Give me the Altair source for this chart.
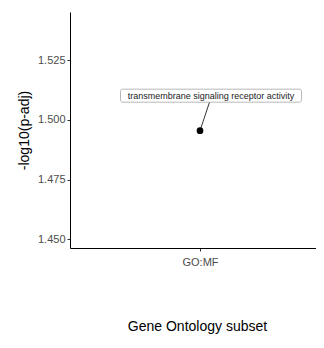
import altair as alt
import pandas as pd

subsets = ["GO:MF"]
terms = ["transmembrane signaling receptor activity"]
neg_log_padj = [1.4955]
label_pos = [1.5102]

df = pd.DataFrame({"subset": subsets, "term": terms, "val": neg_log_padj, "label_y": label_pos})

FONT = "Liberation Sans"

x_scale = alt.Scale(type="point", align=130 / 246)
x_enc = alt.X(
    "subset:N",
    scale=x_scale,
    title="Gene Ontology subset",
    axis=alt.Axis(labelAngle=0, labelPadding=5, titlePadding=52, titleX=127),
)
y_dom = alt.Scale(domain=[1.4463, 1.5453], nice=False, zero=False)
y_enc = alt.Y(
    "val:Q",
    scale=y_dom,
    title="-log10(p-adj)",
    axis=alt.Axis(values=[1.450, 1.475, 1.500, 1.525], format=".3f", labelPadding=2, titlePadding=6),
)

base = alt.Chart(df)

connector = base.mark_rule(color="black", strokeWidth=0.8, x2Offset=9.5, y2Offset=6.5).encode(
    x=x_enc, x2="subset:N", y=y_enc, y2="label_y:Q"
)

box = base.mark_rect(
    fill="white", stroke="#9a9a9a", strokeWidth=0.7, cornerRadius=2,
    xOffset=-79.5, x2Offset=101.5, yOffset=-6.5, y2Offset=6.5,
).encode(
    x=x_enc, x2="subset:N",
    y=alt.Y("label_y:Q", scale=y_dom), y2="label_y:Q",
)

label = base.mark_text(dx=11, fontSize=9, font=FONT, color="#222222", baseline="middle").encode(
    x=x_enc, y=alt.Y("label_y:Q", scale=y_dom), text="term:N"
)

point = base.mark_point(filled=True, size=45, color="black", opacity=1).encode(x=x_enc, y=y_enc)

chart = (
    alt.layer(connector, box, label, point)
    .properties(
        width=246,
        height=236,
        padding={"left": 62, "top": 4, "right": 0, "bottom": 88},
        autosize=alt.AutoSizeParams(type="none"),
    )
    .configure_view(stroke=None)
    .configure_axis(
        grid=False,
        domainColor="black",
        domainWidth=1,
        tickColor="#333333",
        tickSize=3,
        labelColor="#4d4d4d",
        labelFontSize=11,
        labelFont=FONT,
        titleFont=FONT,
        titleFontSize=14,
        titleColor="black",
        titleFontWeight="normal",
    )
)

chart.save("out.html", embed_options={"renderer": "svg", "actions": False})
